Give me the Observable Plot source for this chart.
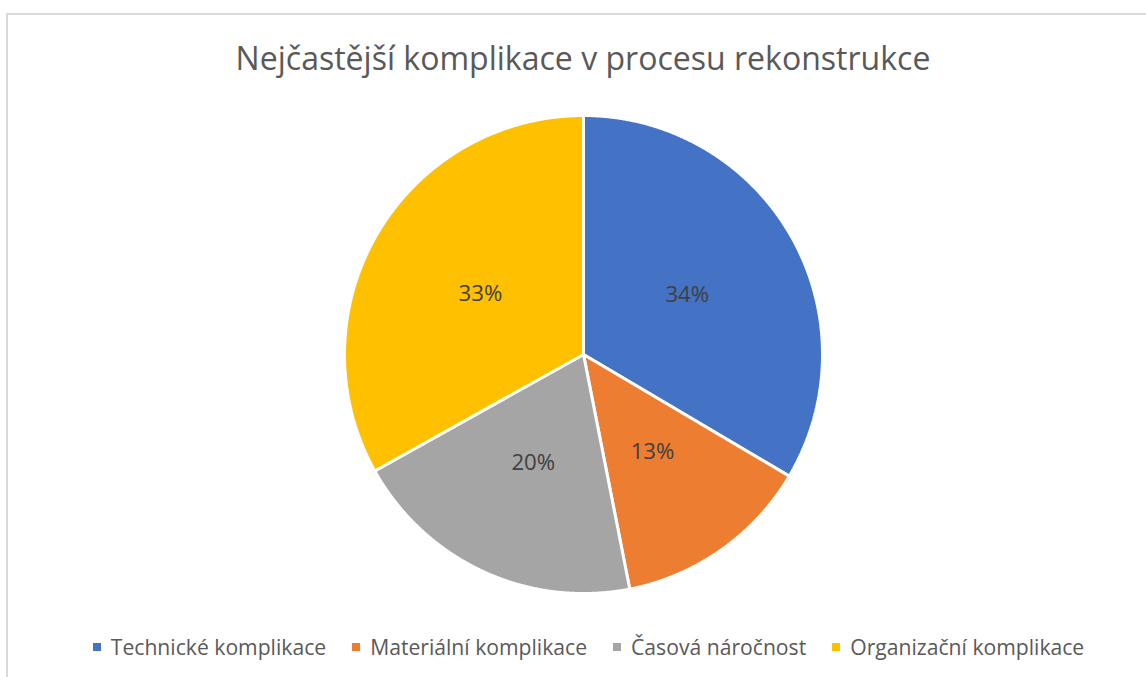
<!DOCTYPE html>
<html>
<head>
<meta charset="utf-8">
<script src="https://cdn.jsdelivr.net/npm/d3@7"></script>
<script src="https://cdn.jsdelivr.net/npm/@observablehq/plot@0.6"></script>
<style>
  html, body { margin: 0; padding: 0; background: #fff; overflow: hidden; }
  body { width: 1146px; height: 677px; position: relative; font-family: "Open Sans", sans-serif; }
  #frame { position: absolute; left: 6px; top: 13px; width: 1200px; height: 720px; border: 2px solid #d9d9d9; box-sizing: border-box; }
  #title { position: absolute; left: 0; width: 1166px; text-align: center; color: #595959; line-height: 1; white-space: nowrap; }
  #chart { position: absolute; left: 0; top: 104px; }
  #legend { position: absolute; left: 0; width: 1177px; display: flex; justify-content: center; gap: 26px; color: #595959; line-height: 1; white-space: nowrap; }
  .item { display: inline-flex; align-items: center; }
  .sw { width: 8px; height: 8px; margin-right: 10px; display: inline-block; }
</style>
</head>
<body>
<div id="frame"></div>
<div id="title"></div>
<div id="chart"></div>
<div id="legend"></div>
<script>
const titleText = "Nejčastější komplikace v procesu rekonstrukce";
const categories = ["Technické komplikace", "Materiální komplikace", "Časová náročnost", "Organizační komplikace"];
const shares = [33.5, 13.4, 20.0, 33.1];
const colors = ["#4472C4", "#ED7D31", "#A5A5A5", "#FFC000"];

// --- font fitting helpers
const ctx = document.createElement("canvas").getContext("2d");
function measure(text, size) { ctx.font = `${size}px "Open Sans"`; return ctx.measureText(text).width; }

// Title
const titleTarget = 695;
const titleSize = 100 * titleTarget / measure(titleText, 100);
const titleEl = document.getElementById("title");
titleEl.textContent = titleText;
titleEl.style.fontSize = titleSize + "px";
titleEl.style.top = (70 - 0.888 * titleSize) + "px";

// Legend
const legendTarget = 842;
const legendSize = 100 * legendTarget / d3.sum(categories, c => measure(c, 100));
const legendEl = document.getElementById("legend");
legendEl.style.fontSize = legendSize + "px";
legendEl.style.top = (655 - 0.888 * legendSize) + "px";
categories.forEach((c, i) => {
  const it = document.createElement("span");
  it.className = "item";
  const sw = document.createElement("span");
  sw.className = "sw";
  sw.style.background = colors[i];
  it.appendChild(sw);
  it.appendChild(document.createTextNode(c));
  legendEl.appendChild(it);
});

// Pie geometry from data
const arcs = d3.pie().sort(null).value(d => d)(shares);
const total = d3.sum(shares);
const slicePts = [];
arcs.forEach((a, i) => {
  const name = categories[i];
  slicePts.push({name, x: 0, y: 0});
  const n = Math.max(2, Math.ceil((a.endAngle - a.startAngle) / (Math.PI / 720)));
  for (let k = 0; k <= n; k++) {
    const t = a.startAngle + (a.endAngle - a.startAngle) * k / n;
    slicePts.push({name, x: Math.sin(t), y: Math.cos(t)});
  }
  slicePts.push({name, x: 0, y: 0});
});
const labels = arcs.map((a, i) => {
  const m = (a.startAngle + a.endAngle) / 2;
  return {x: 0.5 * Math.sin(m), y: 0.5 * Math.cos(m), text: Math.round(shares[i] / total * 100) + "%"};
});

const R = 239, cx = 583, H = 500;
const plot = Plot.plot({
  width: 1146,
  height: H,
  marginLeft: cx - R,
  marginRight: 1146 - cx - R,
  marginTop: H / 2 - R,
  marginBottom: H / 2 - R,
  x: {domain: [-1, 1], axis: null},
  y: {domain: [-1, 1], axis: null},
  color: {domain: categories, range: colors},
  style: {background: "transparent", overflow: "visible"},
  marks: [
    Plot.line(slicePts, {x: "x", y: "y", z: "name", fill: "name", stroke: "white", strokeWidth: 3, strokeLinejoin: "miter", curve: "linear"}),
    Plot.text(labels, {x: "x", y: "y", text: "text", fill: "#404040", fontSize: legendSize * 1.05, fontFamily: "Open Sans"})
  ]
});
document.getElementById("chart").appendChild(plot);
</script>
</body>
</html>
